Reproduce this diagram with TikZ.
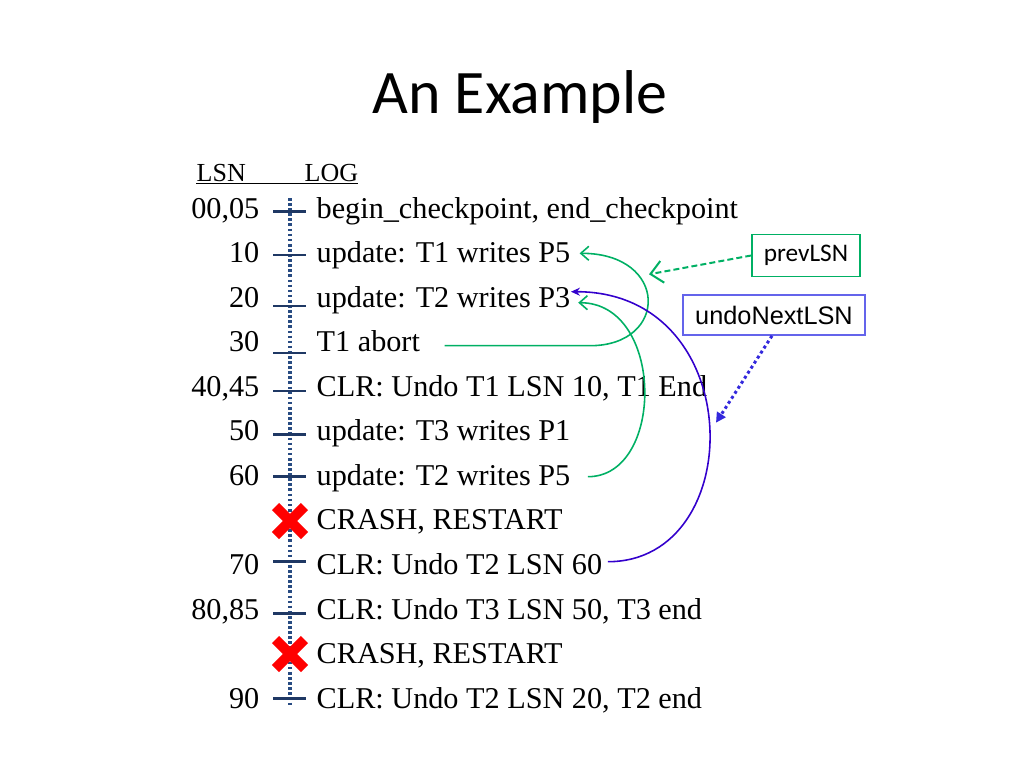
\documentclass[tikz,border=0pt]{standalone}
\usepackage{fontspec}
\setmainfont{Liberation Serif}
\newfontfamily\calibrifont{Carlito}
\newfontfamily\arialfont{Liberation Sans}
\newcommand\logfont{\rmfamily\fontsize{8.6}{10}\selectfont}
\newcommand\hdrfont{\rmfamily\fontsize{7.4}{9}\selectfont}
\usetikzlibrary{arrows.meta}
\definecolor{tickblue}{RGB}{31,56,100}
\definecolor{dotblue}{RGB}{40,75,130}
\definecolor{prevgreen}{RGB}{0,176,100}
\definecolor{undoblue}{RGB}{51,0,204}
\definecolor{undobox}{RGB}{100,100,235}
\definecolor{undodots}{RGB}{51,40,220}
\definecolor{crashred}{RGB}{255,0,0}
\begin{document}
\begin{tikzpicture}[
  lsn/.style={anchor=base east,inner sep=0pt,font=\logfont},
  logline/.style={anchor=base west,inner sep=0pt,font=\logfont},
  logtick/.style={tickblue,line width=0.85pt},
  crossmark/.style={crashred,line width=2.85pt},
  prevarrow/.style={prevgreen,line width=0.45pt,-{Straight Barb[length=0.8mm,width=1.4mm]}},
  undoarrow/.style={undoblue,line width=0.45pt,-{Stealth[length=0.9mm,width=0.8mm]}}
]
\useasboundingbox (0,0) rectangle (10.24,-7.68);

% title
\node[anchor=base,inner sep=0pt,font=\calibrifont\fontsize{17.6}{20}\selectfont] (title) at (5.20,-1.13) {An Example};

% header
\node[anchor=base west,inner sep=0pt,font=\hdrfont] (hdrlsn) at (1.96,-1.81) {LSN};
\node[anchor=base west,inner sep=0pt,font=\hdrfont] (hdrlog) at (3.04,-1.81) {LOG};
\draw[line width=0.4pt] (1.96,-1.833) -- (3.58,-1.833);

% time line
\draw[dotblue,line width=0.9pt,dash pattern=on 0.75pt off 0.7pt] (2.90,-1.98) -- (2.90,-7.05);

% log records
\node[lsn] (lsn00) at (2.60,-2.180) {00,05};
\node[logline] (log00) at (3.16,-2.180) {begin\_checkpoint, end\_checkpoint};
\node[lsn] (lsn10) at (2.60,-2.625) {10};
\node[logline] (log10) at (3.16,-2.625) {update: T1 writes P5};
\node[lsn] (lsn20) at (2.60,-3.071) {20};
\node[logline] (log20) at (3.16,-3.071) {update: T2 writes P3};
\node[lsn] (lsn30) at (2.60,-3.516) {30};
\node[logline] (log30) at (3.16,-3.516) {T1 abort};
\node[lsn] (lsn40) at (2.60,-3.962) {40,45};
\node[logline] (log40) at (3.16,-3.962) {CLR: Undo T1 LSN 10, T1 End};
\node[lsn] (lsn50) at (2.60,-4.407) {50};
\node[logline] (log50) at (3.16,-4.407) {update: T3 writes P1};
\node[lsn] (lsn60) at (2.60,-4.853) {60};
\node[logline] (log60) at (3.16,-4.853) {update: T2 writes P5};
\node[logline] (crash1) at (3.16,-5.298) {CRASH, RESTART};
\node[lsn] (lsn70) at (2.60,-5.744) {70};
\node[logline] (log70) at (3.16,-5.744) {CLR: Undo T2 LSN 60};
\node[lsn] (lsn80) at (2.60,-6.190) {80,85};
\node[logline] (log80) at (3.16,-6.190) {CLR: Undo T3 LSN 50, T3 end};
\node[logline] (crash2) at (3.16,-6.635) {CRASH, RESTART};
\node[lsn] (lsn90) at (2.60,-7.080) {90};
\node[logline] (log90) at (3.16,-7.080) {CLR: Undo T2 LSN 20, T2 end};

% ticks
\draw[logtick] (2.73,-2.117) -- (3.06,-2.117);
\draw[logtick] (2.73,-2.550) -- (3.06,-2.550);
\draw[logtick] (2.73,-3.060) -- (3.06,-3.060);
\draw[logtick] (2.73,-3.530) -- (3.06,-3.530);
\draw[logtick] (2.73,-3.910) -- (3.06,-3.910);
\draw[logtick] (2.73,-4.343) -- (3.06,-4.343);
\draw[logtick] (2.73,-4.767) -- (3.06,-4.767);
\draw[logtick] (2.73,-5.617) -- (3.06,-5.617);
\draw[logtick] (2.73,-6.137) -- (3.06,-6.137);
\draw[logtick] (2.73,-6.983) -- (3.06,-6.983);

% crashes
\draw[crossmark] (2.755,-5.065) -- (3.045,-5.355);
\draw[crossmark] (2.755,-5.355) -- (3.045,-5.065);
\draw[crossmark] (2.755,-6.395) -- (3.045,-6.685);
\draw[crossmark] (2.755,-6.685) -- (3.045,-6.395);

% prevLSN chains
\draw[prevarrow] ([shift={(0.24,0.06)}]log30.base east) -- (5.90,-3.457)
  .. controls (6.69,-3.457) and (6.69,-2.533) .. ([shift={(0.087,0.092)}]log10.base east);
\draw[prevarrow] ([shift={(0.17,0.086)}]log60.base east)
  .. controls (6.65,-4.767) and (6.65,-3.027) .. ([shift={(0.073,0.044)}]log20.base east);

% undoNextLSN
\draw[undoarrow] ([shift={(0.05,0.127)}]log70.base east)
  .. controls (7.49,-5.617) and (7.49,-2.917) .. ([shift={(0.0,0.154)}]log20.base east);

% labels
\node[draw=prevgreen,line width=0.45pt,minimum width=1.08cm,minimum height=0.42cm,inner sep=0pt,
  font=\calibrifont\fontsize{7.2}{8}\selectfont] (prevbox) at (8.06,-2.555) {prevLSN};
\node[draw=undobox,line width=0.45pt,minimum width=1.82cm,minimum height=0.40cm,inner sep=0pt,
  font=\arialfont\fontsize{7.2}{8}\selectfont] (undobox) at (7.74,-3.15) {undoNextLSN};
\coordinate (prevtip) at (6.49,-2.743);
\coordinate (undotip) at (7.16,-4.227);
\draw[prevgreen,line width=0.57pt,dash pattern=on 1.7pt off 0.9pt,
  -{Straight Barb[length=1.2mm,width=2.2mm]}] (prevbox.west) -- (prevtip);
\draw[undodots,line width=0.85pt,dash pattern=on 0.85pt off 0.85pt,
  -{Triangle[length=1mm,width=1mm]}] ([xshift=-0.02cm]undobox.south) -- (undotip);
\end{tikzpicture}
\end{document}
